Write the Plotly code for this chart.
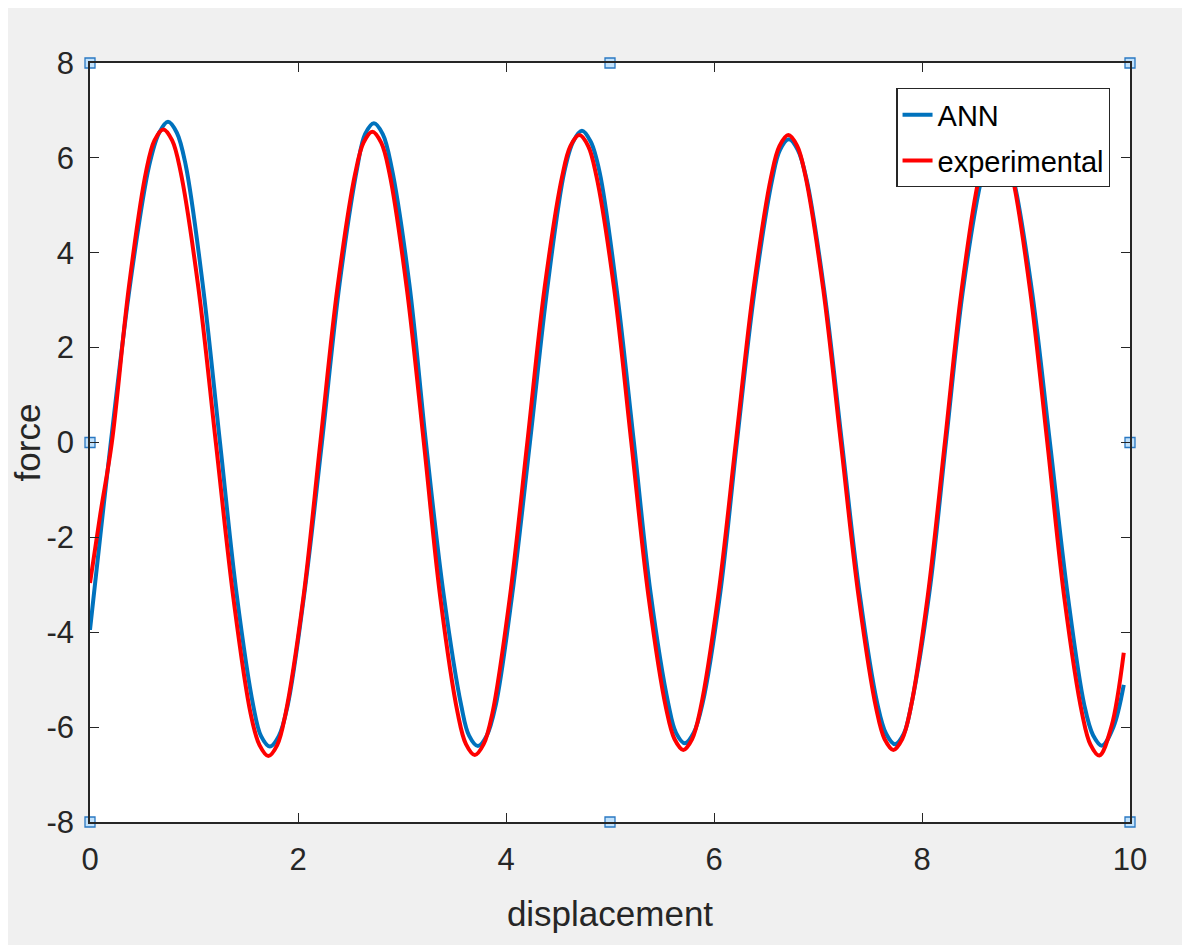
import plotly.graph_objects as go

# ANN (blue) series
ann_x = [0.0, 0.1, 0.2, 0.39, 0.57, 0.665, 0.75, 0.835, 0.92, 1.08,
         1.25, 1.41, 1.57, 1.645, 1.73, 1.815, 1.9, 2.06,
         2.23, 2.40, 2.57, 2.645, 2.73, 2.815, 2.9, 3.07,
         3.23, 3.40, 3.57, 3.645, 3.73, 3.815, 3.9, 4.06,
         4.23, 4.40, 4.56, 4.645, 4.73, 4.815, 4.9, 5.06,
         5.23, 5.39, 5.56, 5.635, 5.72, 5.805, 5.89, 6.06,
         6.22, 6.39, 6.56, 6.635, 6.72, 6.805, 6.89, 7.06,
         7.23, 7.40, 7.57, 7.655, 7.74, 7.825, 7.9, 8.07,
         8.23, 8.39, 8.56, 8.635, 8.72, 8.805, 8.89, 9.06,
         9.23, 9.40, 9.56, 9.645, 9.73, 9.84, 9.94]
ann_y = [-3.95, -1.95, 0.0, 3.4, 5.85, 6.53, 6.76, 6.53, 5.85, 3.4,
         0.0, -3.2, -5.55, -6.19, -6.41, -6.19, -5.55, -3.2,
         0.0, 3.35, 5.8, 6.5, 6.73, 6.5, 5.8, 3.35,
         0.0, -3.2, -5.55, -6.18, -6.40, -6.18, -5.55, -3.2,
         0.0, 3.3, 5.7, 6.34, 6.57, 6.34, 5.7, 3.3,
         0.0, -3.17, -5.5, -6.12, -6.34, -6.12, -5.5, -3.17,
         0.0, 3.2, 5.55, 6.17, 6.39, 6.17, 5.55, 3.2,
         0.0, -3.18, -5.5, -6.14, -6.36, -6.14, -5.5, -3.18,
         0.0, 3.15, 5.45, 6.08, 6.3, 6.08, 5.45, 3.15,
         0.0, -3.2, -5.53, -6.17, -6.39, -6.0, -5.11]

# experimental (red) series
exp_x = [0.0, 0.1, 0.21, 0.375, 0.54, 0.62, 0.705, 0.79, 0.87, 1.04,
         1.21, 1.38, 1.545, 1.63, 1.715, 1.80, 1.88, 2.05,
         2.215, 2.38, 2.55, 2.63, 2.715, 2.80, 2.88, 3.045,
         3.21, 3.37, 3.535, 3.615, 3.70, 3.785, 3.87, 4.035,
         4.205, 4.37, 4.54, 4.62, 4.705, 4.79, 4.87, 5.04,
         5.205, 5.37, 5.54, 5.62, 5.705, 5.79, 5.87, 6.04,
         6.21, 6.38, 6.55, 6.63, 6.715, 6.80, 6.88, 7.05,
         7.22, 7.39, 7.56, 7.64, 7.725, 7.81, 7.89, 8.055,
         8.22, 8.38, 8.545, 8.625, 8.71, 8.795, 8.875, 9.04,
         9.205, 9.37, 9.54, 9.62, 9.705, 9.82, 9.94]
exp_y = [-2.96, -1.5, 0.0, 3.3, 5.72, 6.37, 6.60, 6.37, 5.72, 3.3,
         0.0, -3.3, -5.72, -6.38, -6.61, -6.38, -5.72, -3.3,
         0.0, 3.27, 5.67, 6.32, 6.55, 6.32, 5.67, 3.27,
         0.0, -3.3, -5.7, -6.36, -6.59, -6.36, -5.7, -3.3,
         0.0, 3.24, 5.61, 6.25, 6.48, 6.25, 5.61, 3.24,
         0.0, -3.24, -5.61, -6.25, -6.48, -6.25, -5.61, -3.24,
         0.0, 3.24, 5.61, 6.25, 6.48, 6.25, 5.61, 3.24,
         0.0, -3.24, -5.61, -6.25, -6.48, -6.25, -5.61, -3.24,
         0.0, 3.2, 5.55, 6.18, 6.4, 6.18, 5.55, 3.2,
         0.0, -3.3, -5.72, -6.37, -6.60, -6.0, -4.43]

x_range = [0, 10]
y_range = [-8, 8]
x_ticks = [0, 2, 4, 6, 8, 10]
x_ticktext = ["0", "2", "4", "6", "8", "10"]
y_ticks = [-8, -6, -4, -2, 0, 2, 4, 6, 8]
y_ticktext = ["-8", "-6", "-4", "-2", "0", "2", "4", "6", "8"]

FONT = "Liberation Sans, Arial, Helvetica, sans-serif"
AX = "#262626"

fig = go.Figure()
fig.add_trace(go.Scatter(x=ann_x, y=ann_y, mode="lines", name="ANN", legendgroup="a",
                         line=dict(color="#0072BD", width=4, shape="spline", smoothing=1.0)))
fig.add_trace(go.Scatter(x=exp_x, y=exp_y, mode="lines", name="experimental", legendgroup="b",
                         line=dict(color="#FF0000", width=4, shape="spline", smoothing=1.0)))

# selection handles at corners and edge midpoints of the axes box
xm = (x_range[0] + x_range[1]) / 2
ym = (y_range[0] + y_range[1]) / 2
hx = [x_range[0], xm, x_range[1], x_range[0], x_range[1], x_range[0], xm, x_range[1]]
hy = [y_range[1], y_range[1], y_range[1], ym, ym, y_range[0], y_range[0], y_range[0]]
fig.add_trace(go.Scatter(x=hx, y=hy, mode="markers", showlegend=False, hoverinfo="skip",
                         cliponaxis=False,
                         marker=dict(symbol="square", size=10, color="#C3E2FB",
                                     line=dict(color="#2A78C2", width=1.3))))

axis_common = dict(showgrid=False, zeroline=False, showline=True, linecolor=AX, linewidth=1.5,
                   mirror="ticks", ticks="inside", ticklen=9, tickwidth=1.3, tickcolor=AX,
                   tickfont=dict(family=FONT, size=31, color=AX))

fig.update_xaxes(range=x_range, tickvals=x_ticks, ticktext=x_ticktext, ticklabelstandoff=9,
                 title=dict(text="displacement", font=dict(family=FONT, size=35, color=AX), standoff=26),
                 **axis_common)
fig.update_yaxes(range=y_range, tickvals=y_ticks, ticktext=y_ticktext, ticklabelstandoff=8,
                 title=dict(text="force", font=dict(family=FONT, size=35, color=AX), standoff=2),
                 **axis_common)

fig.update_layout(
    width=1190, height=945,
    margin=dict(l=82, r=68, t=55, b=131, autoexpand=False),
    paper_bgcolor="#F0F0F0", plot_bgcolor="#FFFFFF",
    legend=dict(x=0.981, y=0.967, xanchor="right", yanchor="top",
                bgcolor="#FFFFFF", bordercolor=AX, borderwidth=1.3,
                font=dict(family=FONT, size=29, color="#000000"),
                tracegroupgap=5, itemwidth=30),
)

fig.write_html("out.html")
